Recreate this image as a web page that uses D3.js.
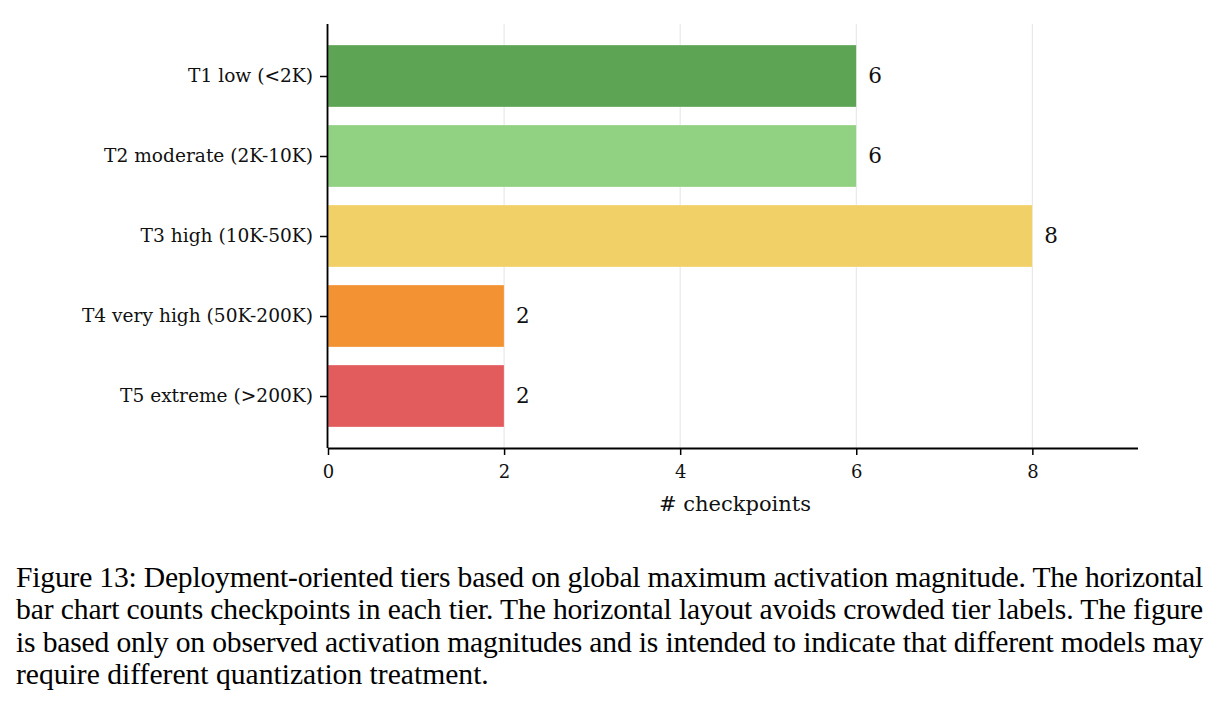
<!DOCTYPE html>
<html><head><meta charset="utf-8">
<script src="https://cdn.jsdelivr.net/npm/d3@7"></script>
<style>body{margin:0;background:#fff;} svg{display:block;}</style>
</head><body>
<svg id="c" width="1220" height="709"></svg>
<script>
const tiers = ["T1 low (<2K)", "T2 moderate (2K-10K)", "T3 high (10K-50K)", "T4 very high (50K-200K)", "T5 extreme (>200K)"];
const counts = [6, 6, 8, 2, 2];
const colors = ["#59a14f", "#8cd17d", "#f1ce63", "#f28e2b", "#e15759"];
const xTicks = [0, 2, 4, 6, 8];
const xLabel = "# checkpoints";
const captionLines = [
  "Figure 13: Deployment-oriented tiers based on global maximum activation magnitude. The horizontal",
  "bar chart counts checkpoints in each tier. The horizontal layout avoids crowded tier labels. The figure",
  "is based only on observed activation magnitudes and is intended to indicate that different models may",
  "require different quantization treatment."
];

const svg = d3.select("#c");
const L = 328, R = 1138, T = 24, B = 448;
const x = d3.scaleLinear().domain([0, 9.2]).range([L, R]);
const y = d3.scaleLinear().domain([-0.65, 4.65]).range([T, B]);
const barH = 0.775;
const serif = "DejaVu Serif";

// grid
svg.append("g").selectAll("line").data(xTicks).join("line")
  .attr("x1", d => x(d)).attr("x2", d => x(d)).attr("y1", T).attr("y2", B)
  .attr("stroke", "#e4e4e4").attr("stroke-width", 1);

// bars
svg.append("g").selectAll("rect").data(counts).join("rect")
  .attr("x", x(0)).attr("y", (d, i) => y(i - barH / 2))
  .attr("width", d => x(d) - x(0)).attr("height", y(barH) - y(0))
  .attr("fill", (d, i) => colors[i]).attr("fill-opacity", 0.97)
  .attr("stroke", "#fff").attr("stroke-width", 0.5).attr("stroke-opacity", 0.6);

// value labels
svg.append("g").selectAll("text").data(counts).join("text")
  .attr("x", d => x(d) + 12).attr("y", (d, i) => y(i))
  .attr("dy", "0.34em").attr("font-family", serif).attr("font-size", 21.5)
  .attr("fill", "#111").text(d => d);

// x axis
const xa = svg.append("g").attr("transform", `translate(0,${B})`)
  .call(d3.axisBottom(x).tickValues(xTicks).tickSize(7).tickPadding(10).tickFormat(d3.format("d")));
xa.select(".domain").attr("d", `M${L},0.5H${R}`).attr("stroke-width", 1.8);
xa.selectAll(".tick line").attr("stroke-width", 1.5);
xa.selectAll("text").attr("font-family", serif).attr("font-size", 18).attr("fill", "#111");

// y axis
const ya = svg.append("g").attr("transform", `translate(${L},0)`)
  .call(d3.axisLeft(y).tickValues(d3.range(tiers.length)).tickSize(8).tickPadding(7).tickFormat(i => tiers[i]));
ya.select(".domain").attr("d", `M-0.5,${T}V${B}`).attr("stroke-width", 1.8);
ya.selectAll(".tick line").attr("stroke-width", 1.5);
ya.selectAll("text").attr("font-family", serif).attr("font-size", 18.6).attr("fill", "#111");

// x label
svg.append("text").attr("x", (L + R) / 2 + 2).attr("y", 511).attr("text-anchor", "middle")
  .attr("font-family", serif).attr("font-size", 21).attr("fill", "#111").text(xLabel);

// caption (justified lines: fit natural width first, then stretch to the column)
const cap = svg.append("g");
const colW = 1187;
captionLines.forEach((line, i) => {
  const t = cap.append("text").attr("x", 16).attr("y", 587 + i * 32.4)
    .attr("font-family", "Liberation Serif").attr("font-size", 29.6).attr("fill", "#000").text(line);
  if (i < captionLines.length - 1) {
    const w = t.node().getComputedTextLength();
    if (w > colW) {
      const n = line.length;
      t.attr("letter-spacing", ((colW - w) / n - 0.05).toFixed(3));
    }
    t.attr("textLength", colW).attr("lengthAdjust", "spacing");
  }
});
</script>
</body></html>
